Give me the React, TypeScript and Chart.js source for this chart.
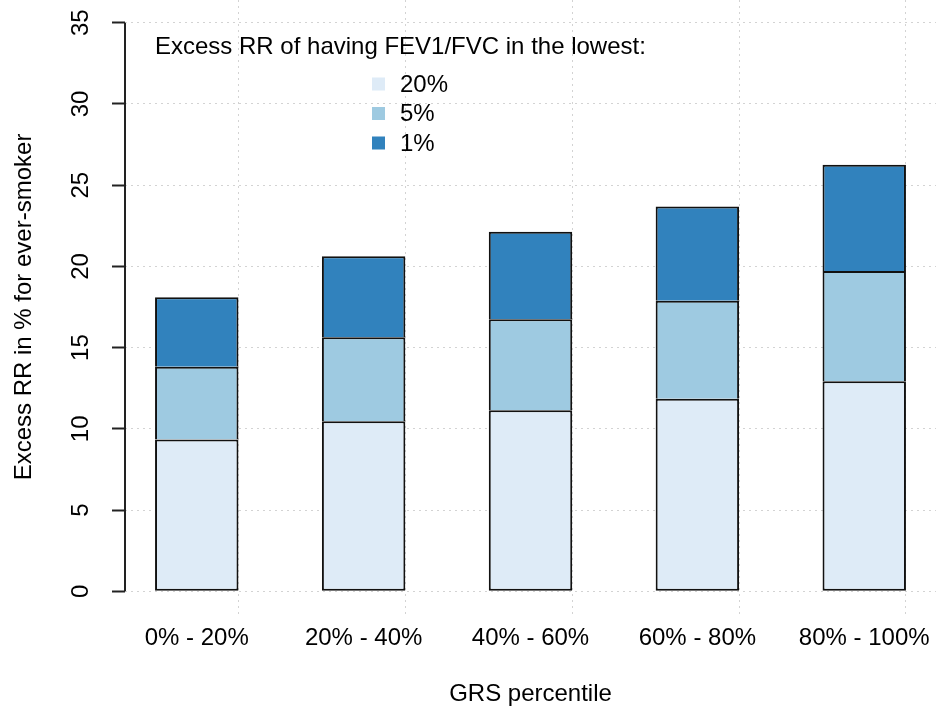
import React, { useEffect, useRef } from "react";
import { Chart, registerables } from "chart.js";

Chart.register(...registerables);

// ---- data ----
const categories = ["0% - 20%", "20% - 40%", "40% - 60%", "60% - 80%", "80% - 100%"];
const seriesLabels = ["20%", "5%", "1%"];
const lowest20 = [9.35, 10.47, 11.15, 11.85, 12.93];
const lowest5 = [4.47, 5.17, 5.6, 6.03, 6.79];
const lowest1 = [4.28, 4.98, 5.39, 5.8, 6.54];
const yTicks = [0, 5, 10, 15, 20, 25, 30, 35];
const seriesColors = ["#DEEBF7", "#9ECAE1", "#3182BD"];
const legendTitle = "Excess RR of having FEV1/FVC in the lowest:";
const xTitle = "GRS percentile";
const yTitle = "Excess RR in % for ever-smoker";

const FONT = "'Liberation Sans', Arial, Helvetica, sans-serif";

// R barplot layout (width 1, space 1): centers 1.5, 3.5, ... ; right edges 2, 4, ...
const barCenters = categories.map((_, i) => 1.5 + 2 * i);
const barEdges = categories.map((_, i) => 2 + 2 * i);
const xLo = 1;
const xHi = 2 * categories.length;
const xMin = xLo - (xHi - xLo) * 0.04;
const xMax = xHi + (xHi - xLo) * 0.04;
const yLo = yTicks[0];
const yHi = yTicks[yTicks.length - 1];
const yMin = yLo - (yHi - yLo) * 0.04;
const yMax = yHi + (yHi - yLo) * 0.04;

const seriesValues = [lowest20, lowest5, lowest1];

const overlayPlugin = {
  id: "overlay",
  afterDraw(chart: any) {
    const { ctx, chartArea } = chart;
    const y = chart.scales.y;
    ctx.save();
    // y axis line from first to last tick (R style)
    ctx.strokeStyle = "#222";
    ctx.lineWidth = 2;
    ctx.beginPath();
    ctx.moveTo(chartArea.left, y.getPixelForValue(yLo));
    ctx.lineTo(chartArea.left, y.getPixelForValue(yHi));
    ctx.stroke();

    // legend
    ctx.fillStyle = "#000";
    ctx.font = `24px ${FONT}`;
    ctx.textAlign = "left";
    ctx.textBaseline = "alphabetic";
    ctx.fillText(legendTitle, 155, 54);
    const rowY = [84, 113.5, 143];
    chart.data.datasets.forEach((ds: any, i: number) => {
      const cy = rowY[i];
      ctx.fillStyle = ds.backgroundColor;
      ctx.fillRect(372, cy - 6.5, 13, 13);
      ctx.fillStyle = "#000";
      ctx.textBaseline = "middle";
      ctx.fillText(ds.label, 400, cy + 1);
    });
    ctx.restore();
  },
};

export default function App() {
  const ref = useRef<HTMLCanvasElement | null>(null);

  useEffect(() => {
    if (!ref.current) return;
    const datasets = seriesLabels.map((label, k) => ({
      label,
      data: seriesValues[k].map((v, i) => ({ x: barCenters[i], y: v })),
      backgroundColor: seriesColors[k],
      borderColor: "#111",
      borderWidth: { top: 2, left: 2, right: 2, bottom: k === 0 ? 2 : 0 },
      borderSkipped: false,
      categoryPercentage: 1,
      barPercentage: 0.5,
      xAxisID: "x",
      yAxisID: "y",
    }));

    const chart = new Chart(ref.current, {
      type: "bar",
      data: { datasets },
      plugins: [overlayPlugin],
      options: {
        animation: false,
        responsive: false,
        devicePixelRatio: 1,
        layout: { padding: 0 },
        plugins: {
          legend: { display: false },
          tooltip: { enabled: false },
          title: { display: false },
        },
        scales: {
          x: {
            type: "linear",
            position: "bottom",
            min: xMin,
            max: xMax,
            stacked: true,
            offset: false,
            afterBuildTicks: (scale: any) => {
              scale.ticks = barCenters.map((v) => ({ value: v }));
            },
            afterFit: (scale: any) => {
              scale.height = 101;
              scale.paddingLeft = 0;
              scale.paddingRight = 0;
            },
            grid: { display: false, drawTicks: false, offset: false },
            border: { display: false },
            ticks: {
              autoSkip: false,
              maxRotation: 0,
              minRotation: 0,
              padding: 10,
              color: "#000",
              font: { family: FONT, size: 24 },
              callback: (value: any) => {
                const idx = barCenters.findIndex((c) => Math.abs(c - Number(value)) < 1e-9);
                return idx >= 0 ? categories[idx] : "";
              },
            },
            title: {
              display: true,
              text: xTitle,
              color: "#000",
              font: { family: FONT, size: 24 },
              padding: { top: 0, bottom: 6 },
            },
          },
          xg: {
            type: "linear",
            position: "top",
            min: xMin,
            max: xMax,
            offset: false,
            afterBuildTicks: (scale: any) => {
              scale.ticks = barEdges.map((v) => ({ value: v }));
            },
            afterFit: (scale: any) => {
              scale.height = 0;
              scale.paddingLeft = 0;
              scale.paddingRight = 0;
            },
            grid: {
              display: true,
              drawTicks: false,
              drawOnChartArea: true,
              offset: false,
              color: "#d3d3d3",
              lineWidth: 1,
            },
            border: { display: false, dash: [2, 4] },
            ticks: { display: false },
          },
          y: {
            type: "linear",
            position: "left",
            min: yMin,
            max: yMax,
            stacked: true,
            afterBuildTicks: (scale: any) => {
              scale.ticks = yTicks.map((v) => ({ value: v }));
            },
            afterFit: (scale: any) => {
              scale.width = 125;
              scale.paddingTop = 0;
              scale.paddingBottom = 0;
            },
            grid: {
              display: true,
              drawTicks: true,
              drawOnChartArea: true,
              color: "#d3d3d3",
              lineWidth: 1,
              tickLength: 13,
              tickColor: "#222",
              tickWidth: 2,
              tickBorderDash: [],
            },
            border: { display: false, dash: [2, 4] },
            ticks: {
              minRotation: 90,
              maxRotation: 90,
              crossAlign: "center",
              padding: 17,
              color: "#000",
              font: { family: FONT, size: 24 },
              callback: (value: any) => String(value),
            },
            title: {
              display: true,
              text: yTitle,
              color: "#000",
              font: { family: FONT, size: 24 },
              padding: { top: 10, bottom: 0 },
            },
          },
        },
      } as any,
    });
    return () => chart.destroy();
  }, []);

  return (
    <div style={{ position: "absolute", left: 0, top: 0, width: 936, height: 715, background: "#fff" }}>
      <canvas ref={ref} width={936} height={715} style={{ width: 936, height: 715, display: "block" }} />
    </div>
  );
}
